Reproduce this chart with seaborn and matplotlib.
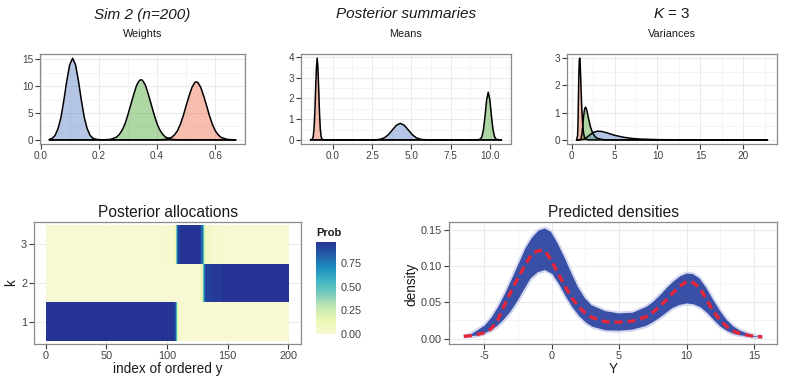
import matplotlib
matplotlib.use("Agg")
import matplotlib.pyplot as plt
from matplotlib.colors import LinearSegmentedColormap
from matplotlib.ticker import MultipleLocator
import pandas as pd
import seaborn as sns

# ==== 1. values ====
# Weights (x, density) per component
w_red_x = [0.03, 0.41, 0.43, 0.45, 0.46, 0.47, 0.48, 0.49, 0.50, 0.51, 0.52, 0.53, 0.535,
           0.54, 0.55, 0.56, 0.57, 0.58, 0.59, 0.60, 0.61, 0.62, 0.64, 0.67]
w_red_y = [0, 0.02, 0.1, 0.47, 0.95, 1.7, 2.9, 4.5, 6.4, 8.2, 9.8, 10.7, 10.8,
           10.7, 9.8, 8.2, 6.4, 4.5, 2.9, 1.7, 0.95, 0.47, 0.1, 0.0]
w_green_x = [0.03, 0.22, 0.24, 0.26, 0.27, 0.28, 0.29, 0.30, 0.31, 0.32, 0.33, 0.34, 0.345,
             0.35, 0.36, 0.37, 0.38, 0.39, 0.40, 0.41, 0.42, 0.43, 0.45, 0.47, 0.67]
w_green_y = [0, 0.02, 0.1, 0.49, 0.99, 1.8, 3.0, 4.7, 6.6, 8.5, 10.2, 11.1, 11.2,
             11.1, 10.2, 8.5, 6.6, 4.7, 3.0, 1.8, 0.99, 0.49, 0.1, 0.02, 0]
w_blue_x = [0.03, 0.04, 0.05, 0.06, 0.07, 0.08, 0.09, 0.10, 0.11, 0.12, 0.13, 0.14, 0.15,
            0.16, 0.17, 0.18, 0.19, 0.20, 0.22, 0.67]
w_blue_y = [0.09, 0.3, 0.85, 2.1, 4.2, 7.4, 11.0, 14.0, 15.2, 14.0, 11.0, 7.4, 4.2,
            2.1, 0.85, 0.3, 0.12, 0.05, 0.01, 0]

# Means
m_red_x = [-1.42, -1.3, -1.25, -1.2, -1.15, -1.1, -1.05, -1.0, -0.95, -0.9, -0.85, -0.8,
           -0.75, -0.7, -0.55, 10.74]
m_red_y = [0, 0.04, 0.17, 0.53, 1.27, 2.37, 3.44, 3.95, 3.44, 2.37, 1.27, 0.53, 0.17, 0.04, 0, 0]
m_green_x = [-1.42, 9.2, 9.4, 9.5, 9.6, 9.7, 9.8, 9.9, 10.0, 10.1, 10.2, 10.3, 10.4, 10.6, 10.74]
m_green_y = [0, 0, 0.035, 0.16, 0.51, 1.18, 1.95, 2.3, 1.95, 1.18, 0.51, 0.16, 0.035, 0.005, 0]
m_blue_x = [-1.42, 2.3, 2.8, 3.05, 3.3, 3.55, 3.8, 4.05, 4.3, 4.55, 4.8, 5.05, 5.3, 5.55,
            5.8, 6.3, 10.74]
m_blue_y = [0, 0, 0.009, 0.035, 0.108, 0.26, 0.485, 0.706, 0.8, 0.706, 0.485, 0.26, 0.108,
            0.035, 0.009, 0, 0]

# Variances
v_red_x = [0.58, 0.7, 0.75, 0.8, 0.85, 0.9, 0.95, 1.0, 1.05, 1.1, 1.2, 1.3, 1.4, 1.5, 1.7, 2.0, 22.8]
v_red_y = [0, 0.15, 0.6, 1.5, 2.4, 2.9, 3.0, 2.8, 2.4, 1.9, 1.1, 0.55, 0.25, 0.1, 0.02, 0, 0]
v_green_x = [0.58, 1.0, 1.1, 1.2, 1.3, 1.4, 1.5, 1.6, 1.7, 1.8, 1.9, 2.0, 2.2, 2.4, 2.6, 2.8,
             3.0, 3.5, 4.0, 22.8]
v_green_y = [0, 0, 0.05, 0.2, 0.5, 0.85, 1.1, 1.2, 1.17, 1.05, 0.9, 0.75, 0.48, 0.3, 0.18, 0.1,
             0.06, 0.02, 0, 0]
v_blue_x = [0.58, 1.0, 1.5, 2.0, 2.5, 3.0, 3.5, 4.0, 4.5, 5.0, 6.0, 7.0, 8.0, 10.0, 12.0, 15.0, 22.8]
v_blue_y = [0, 0, 0.03, 0.15, 0.27, 0.32, 0.31, 0.27, 0.22, 0.17, 0.1, 0.055, 0.03, 0.01,
            0.004, 0.001, 0]

# Posterior allocation probabilities, observations 1..200
obs_index = list(range(1, 201))
k_labels = ["1", "2", "3"]
prob_k1 = [0.97] * 105 + [0.93, 0.85, 0.55, 0.2, 0.05] + [0.01] * 5 + [0.0] * 85
prob_k2 = [0.0] * 125 + [0.01, 0.01, 0.05, 0.18, 0.5, 0.75, 0.88] + [0.93] * 5 + [0.95] * 8 + [0.97] * 55
prob_k3 = ([0.0] * 95 + [0.02] * 9 + [0.04, 0.06, 0.15, 0.45, 0.8, 0.93] + [0.97] * 17
           + [0.93, 0.8, 0.5, 0.25, 0.12] + [0.06] * 5 + [0.03] * 8 + [0.0] * 55)
alloc_breaks = [0, 50, 100, 150, 200]
cbar_breaks = [0.0, 0.25, 0.5, 0.75]
cbar_labels = ["0.00", "0.25", "0.50", "0.75"]

# Predicted densities: posterior mean and envelope of the draws
dens_x = [-6.5, -6, -5.5, -5, -4.5, -4, -3.5, -3, -2.5, -2, -1.5, -1, -0.5, 0, 0.5, 1, 1.5, 2,
          2.5, 3, 4, 5, 6, 7, 7.5, 8, 8.5, 9, 9.5, 10, 10.5, 11, 11.5, 12, 12.5, 13, 13.5, 14,
          15, 15.6]
dens_mean = [0.003, 0.004, 0.0055, 0.008, 0.013, 0.025, 0.046, 0.065, 0.083, 0.0995, 0.116,
             0.121, 0.121, 0.107, 0.089, 0.072, 0.056, 0.044, 0.035, 0.029, 0.023, 0.0225,
             0.024, 0.030, 0.036, 0.044, 0.053, 0.063, 0.072, 0.0785, 0.077, 0.069, 0.053,
             0.037, 0.025, 0.016, 0.010, 0.0065, 0.003, 0.0025]
dens_hi = [0.0045, 0.007, 0.013, 0.019, 0.030, 0.045, 0.063, 0.083, 0.104, 0.125, 0.140,
           0.150, 0.153, 0.148, 0.132, 0.113, 0.092, 0.072, 0.057, 0.047, 0.039, 0.036,
           0.037, 0.045, 0.052, 0.061, 0.071, 0.080, 0.087, 0.091, 0.090, 0.084, 0.071,
           0.055, 0.040, 0.027, 0.018, 0.012, 0.005, 0.003]
dens_lo = [0.0015, 0.002, 0.003, 0.0055, 0.010, 0.016, 0.025, 0.036, 0.050, 0.066, 0.082,
           0.090, 0.093, 0.088, 0.074, 0.057, 0.042, 0.030, 0.021, 0.015, 0.010, 0.0095,
           0.011, 0.016, 0.021, 0.027, 0.034, 0.041, 0.045, 0.047, 0.046, 0.042, 0.034,
           0.024, 0.015, 0.009, 0.005, 0.003, 0.001, 0.001]

# ==== 2. style ====
sns.set_style("white")
plt.rcParams["font.family"] = ["Liberation Sans", "DejaVu Sans"]
plt.rcParams["axes.unicode_minus"] = False
plt.rcParams["mathtext.fontset"] = "custom"
plt.rcParams["mathtext.it"] = "Liberation Sans:italic"
plt.rcParams["mathtext.rm"] = "Liberation Sans"

FILLS = {"red": "#eb5c39", "green": "#399d20", "blue": "#466ec0"}
TXT = "#1a1a1a"

W, H = 785, 383
fig = plt.figure(figsize=(W / 100, H / 100), dpi=100)


def add_ax(l, t, r, b):
    return fig.add_axes([l / W, 1 - b / H, (r - l) / W, (b - t) / H])


def ftext(x, y, s, **kw):
    kw.setdefault("color", TXT)
    fig.text(x / W, 1 - y / H, s, **kw)


def frame(ax, xstep=None, ystep=None, fs=7, minor=True):
    for sp in ax.spines.values():
        sp.set_visible(True)
        sp.set_color("#8a8a8a")
        sp.set_linewidth(0.9)
    if xstep:
        ax.xaxis.set_major_locator(MultipleLocator(xstep))
        ax.xaxis.set_minor_locator(MultipleLocator(xstep / 2))
    if ystep:
        ax.yaxis.set_major_locator(MultipleLocator(ystep))
        ax.yaxis.set_minor_locator(MultipleLocator(ystep / 2))
    ax.grid(True, which="major", color="#e6e6e6", lw=0.6)
    if minor:
        ax.grid(True, which="minor", color="#f2f2f2", lw=0.5)
    ax.set_axisbelow(True)
    ax.tick_params(which="major", direction="out", length=3.5, width=0.8, color="#3a3a3a",
                   labelsize=fs, labelcolor="#404040", pad=1.5,
                   bottom=True, left=True, top=False, right=False)
    ax.tick_params(which="minor", length=0)
    ax.set_xlabel("")
    ax.set_ylabel("")


def density_panel(ax, curves, xlim, ylim, xstep, ystep):
    for xs, ys, col in curves:
        ax.fill_between(xs, ys, color=FILLS[col], alpha=0.4, lw=0)
        sns.lineplot(x=xs, y=ys, ax=ax, color="black", lw=1.1, sort=False, estimator=None)
    ax.set_xlim(*xlim)
    ax.set_ylim(*ylim)
    frame(ax, xstep, ystep, fs=7.2)


# ==== 3. top row: posterior summaries ====
ax1 = add_ax(40, 54, 245, 144)
density_panel(ax1, [(w_red_x, w_red_y, "red"), (w_green_x, w_green_y, "green"),
                    (w_blue_x, w_blue_y, "blue")],
              (-0.002, 0.702), (-0.76, 16.0), 0.2, 5)

ax2 = add_ax(301, 54, 511, 144)
density_panel(ax2, [(m_red_x, m_red_y, "red"), (m_green_x, m_green_y, "green"),
                    (m_blue_x, m_blue_y, "blue")],
              (-2.03, 11.35), (-0.2, 4.15), 2.5, 1)

ax3 = add_ax(567, 54, 777, 144)
density_panel(ax3, [(v_red_x, v_red_y, "red"), (v_green_x, v_green_y, "green"),
                    (v_blue_x, v_blue_y, "blue")],
              (-0.53, 23.91), (-0.15, 3.15), 5, 1)

ftext(142.5, 18.5, "Sim 2 (n=200)", fontsize=11, style="italic", ha="center", va="baseline")
ftext(406, 18.5, "Posterior summaries", fontsize=11, style="italic", ha="center", va="baseline")
ftext(672, 18.5, "$K$ = 3", fontsize=11, ha="center", va="baseline")
ftext(142.5, 36.7, "Weights", fontsize=7.8, ha="center", va="baseline")
ftext(406, 36.7, "Means", fontsize=7.8, ha="center", va="baseline")
ftext(672, 36.7, "Variances", fontsize=7.8, ha="center", va="baseline")

# ==== 4. posterior allocations heatmap ====
cmap = LinearSegmentedColormap.from_list(
    "ylgnbu", ["#f8f9d4", "#edf8b1", "#c7e9b4", "#7fcdbb", "#41b6c4", "#1d91c0",
               "#225ea8", "#253494"])
alloc = pd.DataFrame([prob_k3, prob_k2, prob_k1], index=k_labels[::-1], columns=obs_index)

ax4 = add_ax(34, 222, 301, 344)
cax = add_ax(316, 242, 336, 334)
sns.heatmap(alloc, ax=ax4, cmap=cmap, vmin=0, vmax=0.97, cbar_ax=cax,
            xticklabels=False, yticklabels=False, linewidths=0)
ax4.set_xticks([b - 0.5 for b in alloc_breaks])
ax4.set_xticklabels([str(b) for b in alloc_breaks])
ax4.set_yticks([len(k_labels) + 0.5 - int(k) for k in k_labels])
ax4.set_yticklabels(k_labels, rotation=0)
ax4.set_xlim(-10, 210)
ax4.set_ylim(3.08, -0.08)
frame(ax4, fs=7.8, minor=False)

cb = ax4.collections[0].colorbar
cb.outline.set_visible(False)
cb.set_ticks(cbar_breaks)
cb.set_ticklabels(cbar_labels)
cax.tick_params(direction="in", length=4, width=0.8, color="white", labelsize=7.8,
                labelcolor="#404040", pad=3, left=True, right=True, labelleft=False)

ftext(167.5, 217, "Posterior allocations", fontsize=11.2, ha="center", va="baseline")
ftext(167.5, 373.3, "index of ordered y", fontsize=9.8, ha="center", va="baseline")
ftext(11.5, 283, "k", fontsize=9.8, rotation=90, ha="center", va="center")
ftext(316, 236.5, "Prob", fontsize=8, fontweight="bold", ha="left", va="baseline")

# ==== 5. predicted densities ====
ax5 = add_ax(449, 222, 777, 344)
ax5.plot(dens_x, dens_hi, color="#d3d7ef", lw=1.4, solid_capstyle="round")
ax5.plot(dens_x, dens_lo, color="#d3d7ef", lw=1.4, solid_capstyle="round")
ax5.fill_between(dens_x, dens_lo, dens_hi, color="#3a4fa6", lw=0)
sns.lineplot(x=dens_x, y=dens_mean, ax=ax5, color="#e3263a", lw=2.4,
             linestyle=(0, (2.4, 1.5)), sort=False, estimator=None)
ax5.set_xlim(-7.6, 16.7)
ax5.set_ylim(-0.0075, 0.1605)
frame(ax5, 5, 0.05, fs=7.8)

ftext(613, 217, "Predicted densities", fontsize=11.2, ha="center", va="baseline")
ftext(613, 373.3, "Y", fontsize=9.8, ha="center", va="baseline")
ftext(411.5, 284, "density", fontsize=9.8, rotation=90, ha="center", va="center")

fig.savefig("out.png", dpi=100)
